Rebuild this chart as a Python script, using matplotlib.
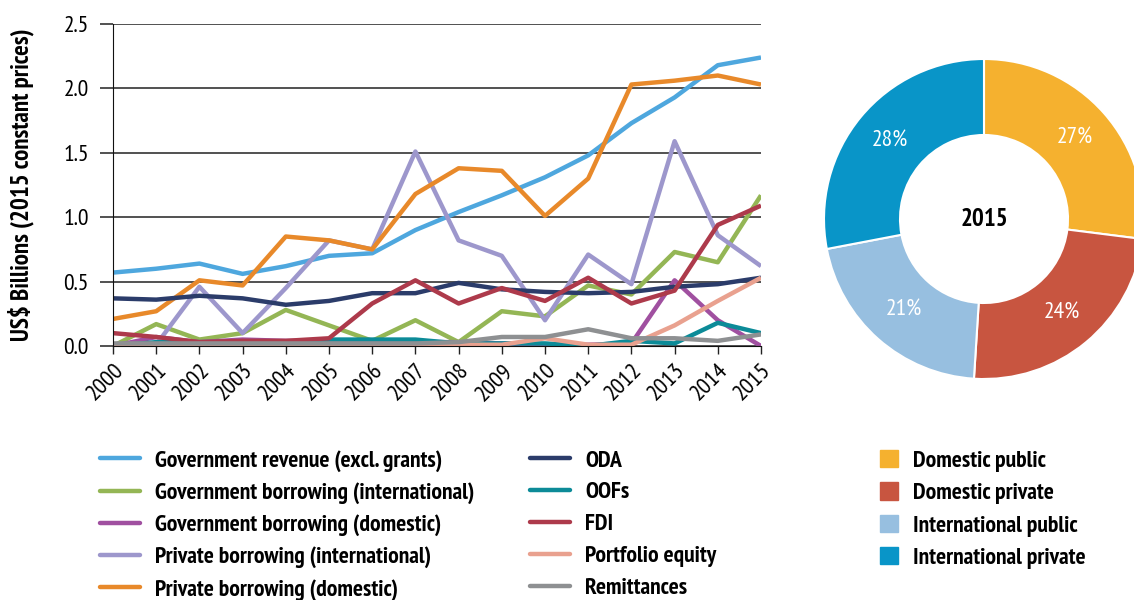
import numpy as np
import matplotlib
matplotlib.use('Agg')
import matplotlib.pyplot as plt
from matplotlib import font_manager
from matplotlib.patches import Patch

# ======================
# Данные
# ======================
years = list(range(2000, 2016))

gov_revenue = [0.57, 0.60, 0.64, 0.56, 0.62, 0.70, 0.72, 0.90, 1.04, 1.17, 1.31, 1.48, 1.73, 1.93, 2.18, 2.24]
gov_borr_int = [0.00, 0.17, 0.05, 0.10, 0.28, 0.16, 0.04, 0.20, 0.03, 0.27, 0.23, 0.47, 0.40, 0.73, 0.65, 1.17]
gov_borr_dom = [0.00, 0.07, 0.03, 0.05, 0.04, 0.04, 0.03, 0.03, 0.03, 0.02, 0.01, 0.01, 0.02, 0.51, 0.20, 0.00]
priv_borr_int = [0.00, 0.01, 0.46, 0.10, 0.45, 0.82, 0.75, 1.51, 0.82, 0.70, 0.20, 0.71, 0.48, 1.59, 0.86, 0.62]
priv_borr_dom = [0.21, 0.27, 0.51, 0.47, 0.85, 0.82, 0.75, 1.18, 1.38, 1.36, 1.01, 1.30, 2.03, 2.06, 2.10, 2.03]
oda = [0.37, 0.36, 0.39, 0.37, 0.32, 0.35, 0.41, 0.41, 0.49, 0.44, 0.42, 0.41, 0.42, 0.46, 0.48, 0.53]
oofs = [0.00, 0.03, 0.03, 0.03, 0.03, 0.05, 0.05, 0.05, 0.02, 0.02, 0.02, 0.00, 0.04, 0.02, 0.18, 0.10]
fdi = [0.10, 0.07, 0.03, 0.04, 0.04, 0.06, 0.33, 0.51, 0.33, 0.45, 0.35, 0.53, 0.33, 0.43, 0.94, 1.09]
portfolio = [0.01, 0.01, 0.01, 0.01, 0.01, 0.01, 0.01, 0.01, 0.01, 0.01, 0.06, 0.01, 0.01, 0.16, 0.35, 0.53]
remittances = [0.02, 0.02, 0.02, 0.02, 0.02, 0.02, 0.02, 0.02, 0.03, 0.07, 0.07, 0.13, 0.06, 0.06, 0.04, 0.09]

series_names = ['Government revenue (excl. grants)', 'Government borrowing (international)',
                'Government borrowing (domestic)', 'Private borrowing (international)',
                'Private borrowing (domestic)', 'ODA', 'OOFs', 'FDI', 'Portfolio equity', 'Remittances']
series_values = [gov_revenue, gov_borr_int, gov_borr_dom, priv_borr_int, priv_borr_dom,
                 oda, oofs, fdi, portfolio, remittances]
series_colors = ['#4ea7de', '#94b655', '#a050a0', '#9d97cc', '#e8892a',
                 '#2b3c6a', '#0c8b98', '#ad3a4b', '#e9a18f', '#8e9092']

pie_labels = ['Domestic public', 'Domestic private', 'International public', 'International private']
pie_values = [27, 24, 21, 28]
pie_colors = ['#f5b12f', '#c85540', '#97bfe0', '#0995c8']

# ======================
# Шрифт: узкий, похожий на Myriad Condensed
# ======================
available = {f.name for f in font_manager.fontManager.ttflist}
family = None
for cand in ['PT Sans Narrow', 'Roboto Condensed', 'Open Sans Condensed', 'Archivo Narrow',
             'Asap Condensed', 'Liberation Sans Narrow']:
    if cand in available:
        family = cand
        break
if family:
    plt.rcParams['font.family'] = [family, 'DejaVu Sans']
else:
    plt.rcParams['font.family'] = ['DejaVu Sans']
    plt.rcParams['font.stretch'] = 'condensed'

W, H = 1134, 600
fig = plt.figure(figsize=(W / 100, H / 100), dpi=100)
FS = 17

# ======================
# Линейный график
# ======================
ax = fig.add_axes([113 / W, 1 - 346 / H, (761 - 113) / W, (346 - 24) / H])
for name, vals, col in zip(series_names, series_values, series_colors):
    ax.plot(years, vals, color=col, linewidth=3.2, label=name, solid_capstyle='butt')

ax.set_xlim(2000, 2015)
ax.set_ylim(0, 2.5)
ax.set_yticks([0, 0.5, 1.0, 1.5, 2.0, 2.5])
ax.set_yticklabels(['0.0', '0.5', '1.0', '1.5', '2.0', '2.5'])
ax.set_xticks(years)
ax.set_xticklabels([str(y) for y in years], rotation=45, ha='right', rotation_mode='anchor')
ax.grid(axis='y', color='#222222', linewidth=1.1)
ax.set_axisbelow(True)
ax.tick_params(axis='y', length=9.5, width=1.1, color='#222222', labelsize=FS, pad=8)
ax.tick_params(axis='x', length=6, width=1, color='#222222', labelsize=FS, pad=4)
for s in ['top', 'right']:
    ax.spines[s].set_visible(False)
ax.spines['left'].set_color('#111111')
ax.spines['bottom'].set_color('#111111')
ax.set_ylabel('US$ Billions (2015 constant prices)', fontsize=18, fontweight='bold')
ax.yaxis.set_label_coords((34 - 113) / (761 - 113), 0.5)

# ======================
# Кольцевая диаграмма
# ======================
pax = fig.add_axes([(984 - 160) / W, 1 - 379 / H, 320 / W, 320 / H])
wedges, _ = pax.pie(pie_values, colors=pie_colors, startangle=90, counterclock=False,
                    radius=1.0, wedgeprops=dict(width=0.475, edgecolor='white', linewidth=1.5))
pax.set_aspect('equal')
pax.set_xlim(-1, 1)
pax.set_ylim(-1, 1)
start = 90
for v in pie_values:
    mid = np.deg2rad(start - v * 3.6 / 2)
    pax.text(0.76 * np.cos(mid), 0.76 * np.sin(mid), f'{v}%', color='white',
             fontsize=FS, ha='center', va='center')
    start -= v * 3.6
pax.text(0, 0, '2015', fontsize=18, fontweight='bold', ha='center', va='center')

# ======================
# Легенды
# ======================
handles = ax.get_lines()
leg_kw = dict(frameon=False, loc='upper left', borderpad=0, borderaxespad=0,
              prop={'size': FS, 'weight': 'bold'}, handlelength=1.7, handletextpad=0.64,
              labelspacing=0.44)
leg1 = fig.legend(handles[:5], series_names[:5], bbox_to_anchor=(100 / W, 1 - 450 / H), **leg_kw)
leg2 = fig.legend(handles[5:], series_names[5:], bbox_to_anchor=(530 / W, 1 - 450 / H), **leg_kw)
for leg in (leg1, leg2):
    for ln in leg.get_lines():
        ln.set_linewidth(3.2)
        ln.set_solid_capstyle('round')

patches = [Patch(color=c, label=l) for c, l in zip(pie_colors, pie_labels)]
fig.legend(handles=patches, bbox_to_anchor=(880 / W, 1 - 450 / H), frameon=False, loc='upper left',
           borderpad=0, borderaxespad=0, prop={'size': FS, 'weight': 'bold'},
           handlelength=0.76, handleheight=0.76, handletextpad=0.64, labelspacing=0.44)

fig.savefig('out.png', dpi=100)
